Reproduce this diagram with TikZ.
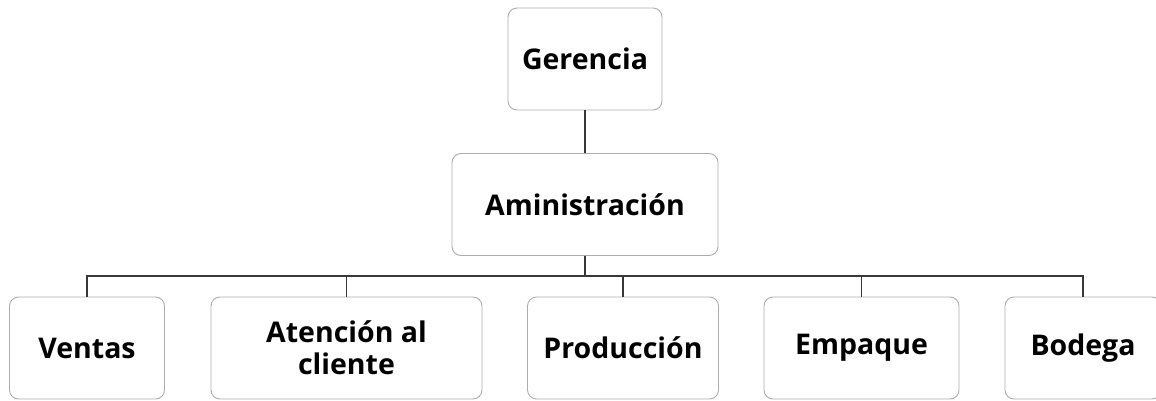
\documentclass[tikz,border=0pt]{standalone}
\usepackage{fontspec}
\setmainfont{Open Sans}
\begin{document}
\begin{tikzpicture}[x=1pt,y=-1pt,
  box/.style={draw=black!32,line width=0.9pt,rounded corners=9pt,fill=white,
    align=center,inner sep=0pt,minimum height=102pt,
    font=\fontsize{28.5}{32}\selectfont\bfseries},
  conn/.style={draw=black!78,line width=1.3pt}]
\useasboundingbox (0,0) rectangle (1156,401);
\node[box,minimum width=154pt] (ger) at (585,59) {Gerencia};
\node[box,minimum width=266pt] (ami) at (585,204.5) {Aministración};
\node[box,minimum width=155pt] (ven) at (87,348) {Ventas};
\node[box,minimum width=271pt] (ate) at (346.5,348) {Atención al\\cliente};
\node[box,minimum width=191pt] (pro) at (623,348) {Producción};
\node[box,minimum width=195pt] (emp) at (861.5,348) {Empaque};
\node[box,minimum width=156pt] (bod) at (1083,348) {Bodega};
\coordinate (bus) at (585,276);
\draw[conn] (ger.south) -- (ami.north);
\foreach \c in {ven,ate,pro,emp,bod}
  \draw[conn] (ami.south) -- (bus) -| (\c.north);
\end{tikzpicture}
\end{document}
